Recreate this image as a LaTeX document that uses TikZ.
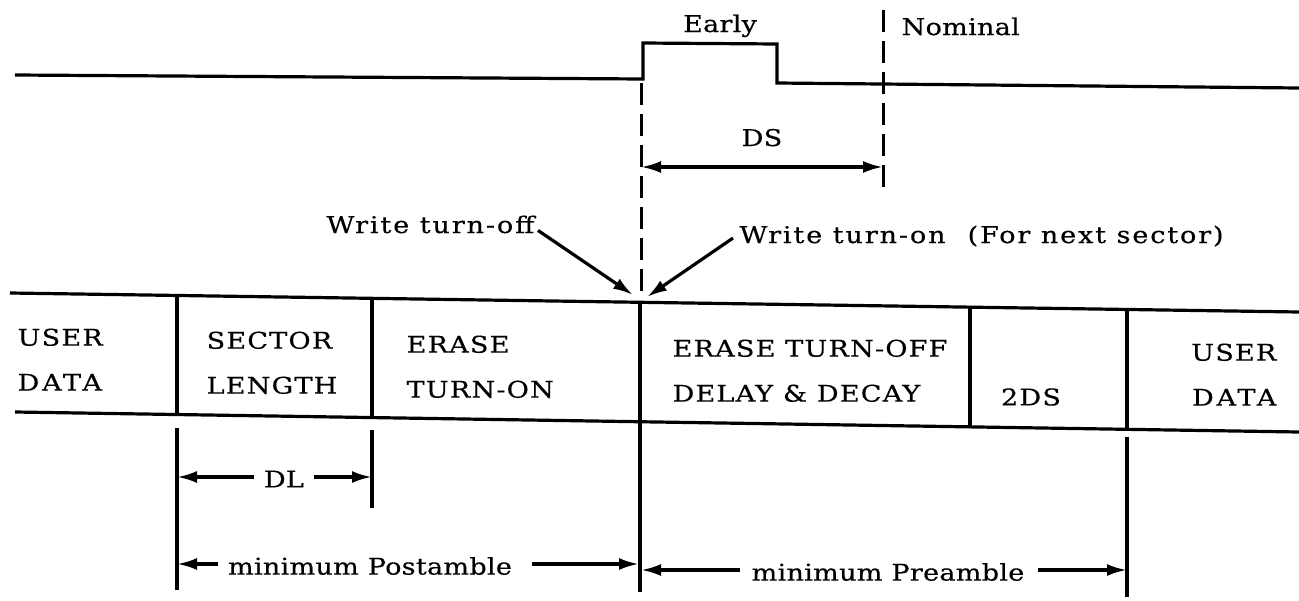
\documentclass[tikz,border=0pt]{standalone}
\usepackage{fontspec}
\setmainfont{DejaVu Serif}[FakeStretch=1.18,FakeBold=0.4]
\usetikzlibrary{arrows.meta}
\newcommand{\lsp}[1]{\fontsize{23}{28}\selectfont\addfontfeature{LetterSpace=#1}}
\begin{document}
\begin{tikzpicture}[x=1pt,y=-1pt,
  line width=3.2pt,
  lbl/.style={inner sep=0pt,font=\lsp{1}},
  wlbl/.style={inner sep=0pt,font=\lsp{8}},
  celltxt/.style={inner sep=0pt,font=\lsp{5},align=left},
  dsh/.style={line width=3pt,dash pattern=on 22pt off 9pt},
  arr/.style={-{Latex[length=20pt,width=12pt]},line width=3.2pt}]
\useasboundingbox (0,0) rectangle (1299,600);
% signal
\draw[line join=miter] (15,75) -- (643,79) -- (643,43) -- (777,44) -- (777,83) -- (1299,88);
\node[lbl,anchor=base] (early) at (720,32) {Early};
\node[lbl,anchor=base west] (nominal) at (900,35) {Nominal};
% dashed guides
\coordinate (d1t) at (641,83);
\coordinate (d1b) at (641,296);
\coordinate (d2t) at (883,10);
\coordinate (d2b) at (883,190);
\draw[dsh] (d1t) -- (d1b);
\draw[dsh] (d2t) -- (d2b);
\coordinate (dsl) at (641,167);
\coordinate (dsr) at (883,167);
\node[lbl,anchor=base] (ds) at (762,146) {DS};
\draw[{Latex[length=20pt,width=12pt]}-{Latex[length=20pt,width=12pt]}] (dsl) -- (dsr);
% write labels
\node[wlbl,anchor=base west] (woff) at (325,233) {Write turn-off};
\node[wlbl,anchor=base west] (won) at (738,243) {Write turn-on\hspace{22pt}(For next sector)};
\coordinate (woffp) at (633,295);
\coordinate (wonp) at (647,297);
\draw[arr] (woff.east) ++(2,6) -- (woffp);
\draw[arr] (won.west) ++(-5,2) -- (wonp);
% table lines
\draw (10,293) -- (1299,312);
\draw (15,412) -- (1299,432);
% dividers
\coordinate (v1t) at (177,295.5); \coordinate (v1b) at (177,414.6);
\coordinate (v2t) at (372,298.3); \coordinate (v2b) at (372,417.6);
\coordinate (v3t) at (640,302.3); \coordinate (v3b) at (640,592);
\coordinate (v4t) at (970,307.2); \coordinate (v4b) at (970,426.9);
\coordinate (v5t) at (1127,309.5); \coordinate (v5b) at (1127,429.3);
\draw (v1t) -- (v1b);
\draw (v2t) -- (v2b);
\draw (v3t) -- (v3b);
\draw (v4t) -- (v4b);
\draw (v5t) -- (v5b);
% extensions
\coordinate (e1t) at (177,428); \coordinate (e1b) at (177,590);
\coordinate (e2t) at (372,430); \coordinate (e2b) at (372,508);
\coordinate (e5t) at (1127,437); \coordinate (e5b) at (1127,597);
\draw (e1t) -- (e1b);
\draw (e2t) -- (e2b);
\draw (e5t) -- (e5b);
% cell texts
\node[celltxt,anchor=north west] (c1) at (16,327) {USER\\[17pt]{\addfontfeature{LetterSpace=12}DATA}};
\node[celltxt,anchor=north west] (c2) at (205,330) {SECTOR\\[17pt]LENGTH};
\node[celltxt,anchor=north west] (c3) at (405,334) {ERASE\\[17pt]TURN-ON};
\node[celltxt,anchor=north west] (c4) at (671,338) {ERASE TURN-OFF\\[17pt]DELAY \& DECAY};
\node[celltxt] (c5) at (1031,397) {2DS};
\node[celltxt,anchor=north east,align=right] (c6) at (1278,342) {USER\\[17pt]{\addfontfeature{LetterSpace=12}DATA}};
% dimension lines
\coordinate (dla) at (177,477); \coordinate (dlb) at (372,477);
\node[lbl] (dl) at (284,479) {DL};
\draw[arr] (dl.west) ++(-8,-2) -- (dla);
\draw[arr] (dl.east) ++(8,-2) -- (dlb);
\coordinate (pa) at (177,564); \coordinate (pb) at (639,564);
\node[lbl] (post) at (370,566) {minimum Postamble};
\draw[arr] (post.west) ++(-8,-2) -- (pa);
\draw[arr] (post.east) ++(18,-2) -- (pb);
\coordinate (qa) at (641,570); \coordinate (qb) at (1127,570);
\node[lbl] (pre) at (888,572) {minimum Preamble};
\draw[arr] (pre.west) ++(-10,-2) -- (qa);
\draw[arr] (pre.east) ++(12,-2) -- (qb);
\end{tikzpicture}
\end{document}
